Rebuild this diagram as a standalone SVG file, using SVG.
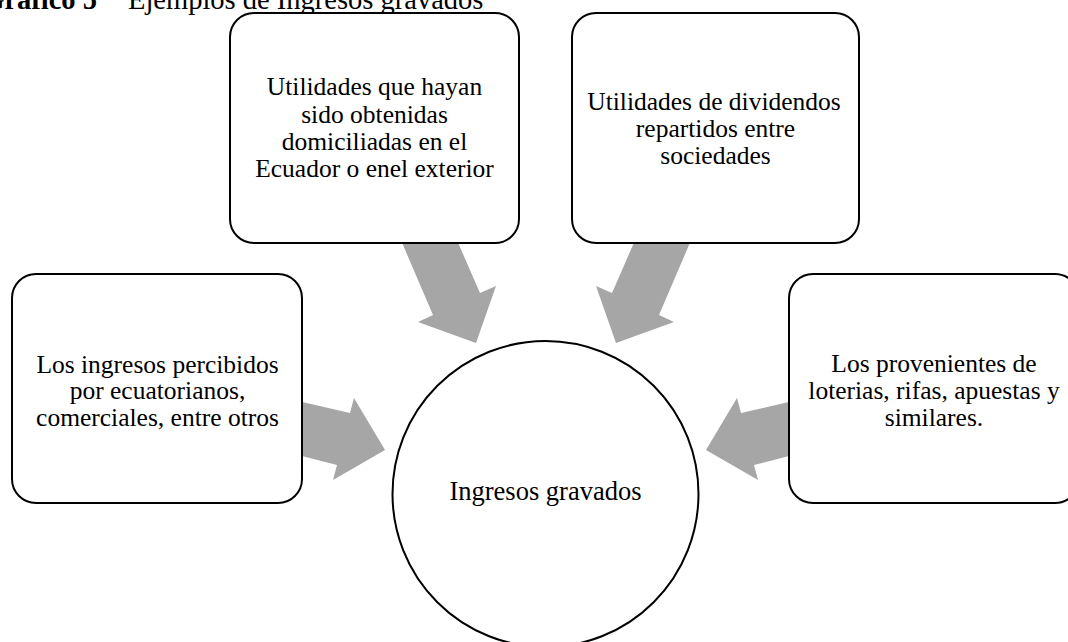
<svg xmlns="http://www.w3.org/2000/svg" width="1068" height="642" viewBox="0 0 1068 642">
<style>
  .box { fill: #ffffff; stroke: #000000; stroke-width: 2; }
  .arrow { fill: #a6a6a6; stroke: none; }
  .lbl { font-family: "Liberation Serif", "Times New Roman", serif; font-size: 25.5px; fill: #000000; text-anchor: middle; }
  .title { font-family: "Liberation Serif", "Times New Roman", serif; font-size: 28.5px; fill: #000000; }
</style>
<rect width="1068" height="642" fill="#ffffff"/>
<g id="title">
  <text class="title" x="97" y="9" text-anchor="end" font-weight="bold">Gráfico 5</text>
  <text class="title" x="128" y="9">Ejemplos de Ingresos gravados</text>
</g>
<g id="connectors">
  <polygon class="arrow" points="400,238 456,238 480,293 496,286 476,343 418,322 433,315"/>
  <polygon class="arrow" points="636,238 692,238 659,315 674,322 616,343 596,286 612,293"/>
  <polygon class="arrow" points="298,401 350,413 354,398 385,450 333,480 337,465 298,455"/>
  <polygon class="arrow" points="793,401 741,413 737,398 706,450 758,480 754,465 793,455"/>
</g>
<g id="node-top-left">
  <rect class="box" x="230" y="13" width="289" height="230" rx="24" ry="24"/>
  <text class="lbl" x="374.5" y="95">Utilidades que hayan</text>
  <text class="lbl" x="374.5" y="122.5">sido obtenidas</text>
  <text class="lbl" x="374.5" y="150">domiciliadas en el</text>
  <text class="lbl" x="374.5" y="177">Ecuador o enel exterior</text>
</g>
<g id="node-top-right">
  <rect class="box" x="572" y="13" width="287" height="230" rx="24" ry="24"/>
  <text class="lbl" x="714" y="110">Utilidades de dividendos</text>
  <text class="lbl" x="715.5" y="137">repartidos entre</text>
  <text class="lbl" x="715.5" y="164">sociedades</text>
</g>
<g id="node-left">
  <rect class="box" x="12" y="274" width="290" height="229" rx="24" ry="24"/>
  <text class="lbl" x="157.5" y="372.5">Los ingresos percibidos</text>
  <text class="lbl" x="157.5" y="399">por ecuatorianos,</text>
  <text class="lbl" x="157.5" y="425.5">comerciales, entre otros</text>
</g>
<g id="node-right">
  <rect class="box" x="789" y="274" width="290" height="229" rx="24" ry="24"/>
  <text class="lbl" x="934" y="372">Los provenientes de</text>
  <text class="lbl" x="934" y="398.5">loterias, rifas, apuestas y</text>
  <text class="lbl" x="934" y="425.5">similares.</text>
</g>
<g id="node-center">
  <circle class="box" cx="545.5" cy="494" r="153"/>
  <text class="lbl" x="545.5" y="500" style="font-size:26.5px">Ingresos gravados</text>
</g>
</svg>
